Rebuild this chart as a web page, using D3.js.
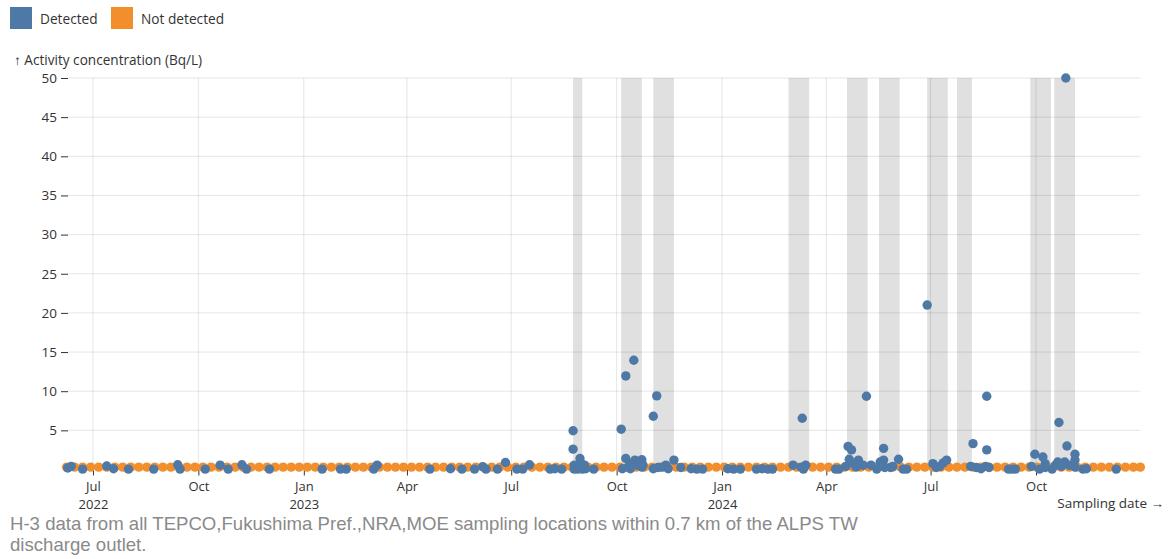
<!DOCTYPE html>
<html lang="en">
<head>
<meta charset="UTF-8">
<title>H-3 near ALPS TW outlet</title>
<script src="https://d3js.org/d3.v7.min.js"></script>
<style>
  body { margin: 0; padding: 0; background: #fff; }
  svg { display: block; }
</style>
</head>
<body>
<script>
const width = 1171, height = 559;
const font = "'Open Sans', sans-serif";

// shaded periods
const bandStart = ["2023-08-24", "2023-10-05", "2023-11-02", "2024-02-28", "2024-04-19",
  "2024-05-17", "2024-06-28", "2024-07-24", "2024-09-26", "2024-10-17"];
const bandEnd = ["2023-09-01", "2023-10-23", "2023-11-20", "2024-03-17", "2024-05-07",
  "2024-06-04", "2024-07-16", "2024-08-06", "2024-10-14", "2024-11-04"];

// detected results [date, Bq/L]
const detected = [
  ["2022-06-09",0.2],["2022-06-12",0.4],["2022-06-22",0.05],["2022-07-13",0.45],["2022-07-19",0.1],
  ["2022-08-01",0.05],["2022-08-23",0.05],["2022-09-13",0.6],["2022-09-15",0.05],["2022-10-07",0.05],
  ["2022-10-20",0.55],["2022-10-27",0.05],["2022-11-08",0.6],["2022-11-12",0.05],["2022-12-02",0.05],
  ["2023-01-17",0.05],["2023-02-02",0.05],["2023-02-07",0.05],["2023-03-03",0.05],["2023-03-06",0.55],
  ["2023-04-21",0.05],["2023-05-09",0.1],["2023-05-19",0.05],["2023-05-30",0.05],["2023-06-06",0.35],
  ["2023-06-09",0.05],["2023-06-19",0.05],["2023-06-26",0.9],["2023-07-06",0.05],["2023-07-11",0.05],
  ["2023-07-17",0.6],["2023-08-04",0.05],["2023-08-08",0.1],["2023-08-14",0.05],
  ["2023-08-24",4.95],["2023-08-24",2.6],["2023-08-30",1.4],["2023-08-25",0.55],["2023-08-25",0.05],
  ["2023-08-28",0.3],["2023-08-28",0.05],["2023-08-31",0.75],["2023-09-01",0.05],["2023-09-03",0.55],
  ["2023-09-04",0.1],["2023-09-11",0.05],
  ["2023-10-05",5.15],["2023-10-09",11.95],["2023-10-16",13.95],["2023-10-09",1.4],["2023-10-06",0.1],
  ["2023-10-11",0.3],["2023-10-13",0.1],["2023-10-14",0.75],["2023-10-17",1.2],["2023-10-19",0.55],
  ["2023-10-23",1.25],["2023-10-23",0.3],["2023-10-24",0.55],
  ["2023-11-02",6.8],["2023-11-05",9.4],["2023-11-02",0.1],["2023-11-06",0.25],["2023-11-10",0.3],
  ["2023-11-13",0.55],["2023-11-15",0.1],["2023-11-20",1.2],["2023-11-26",0.25],["2023-12-05",0.1],
  ["2023-12-10",0.05],["2023-12-15",0.05],
  ["2024-01-06",0.1],["2024-01-11",0.05],["2024-01-17",0.05],["2024-01-31",0.05],["2024-02-05",0.1],
  ["2024-02-10",0.05],["2024-02-14",0.05],
  ["2024-03-03",0.55],["2024-03-11",6.55],["2024-03-10",0.3],["2024-03-14",0.55],["2024-03-12",0.05],
  ["2024-04-09",0.05],["2024-04-12",0.05],
  ["2024-04-18",0.4],["2024-04-20",2.95],["2024-04-23",2.5],["2024-04-21",1.3],["2024-04-25",0.75],
  ["2024-04-29",1.2],["2024-04-27",0.3],["2024-05-06",9.35],["2024-05-03",0.55],
  ["2024-05-10",0.55],["2024-05-15",0.05],["2024-05-18",0.95],["2024-05-21",2.7],["2024-05-21",1.2],
  ["2024-05-22",0.25],["2024-05-27",0.25],["2024-05-29",0.4],["2024-06-03",1.3],["2024-06-07",0.05],
  ["2024-06-10",0.05],
  ["2024-06-28",21.0],["2024-07-03",0.75],["2024-07-06",0.25],["2024-07-09",0.4],["2024-07-12",0.85],
  ["2024-07-15",1.2],
  ["2024-08-05",0.4],["2024-08-07",3.3],["2024-08-10",0.25],["2024-08-14",0.1],["2024-08-19",2.5],
  ["2024-08-19",9.35],["2024-08-18",0.4],["2024-08-21",0.25],
  ["2024-09-07",0.05],["2024-09-10",0.05],["2024-09-13",0.05],
  ["2024-09-27",0.4],["2024-09-30",1.95],["2024-10-04",0.05],["2024-10-07",1.6],["2024-10-09",0.75],
  ["2024-10-09",0.25],
  ["2024-10-15",0.05],["2024-10-18",0.55],["2024-10-20",0.95],["2024-10-21",6.0],["2024-10-23",0.4],
  ["2024-10-26",0.95],["2024-10-27",50],["2024-10-28",3.0],["2024-10-30",0.55],["2024-11-04",1.95],
  ["2024-11-04",1.2],["2024-11-04",0.3],["2024-11-11",0.05],["2024-11-14",0.1],["2024-12-10",0.05]
];

// not detected results (plotted at the detection level)
const notDetectedLevel = 0.3;
const notDetected = [
  "2022-06-08","2022-06-15","2022-06-22","2022-06-29","2022-07-06","2022-07-13","2022-07-20","2022-07-27",
  "2022-08-03","2022-08-10","2022-08-17","2022-08-24","2022-08-31","2022-09-07","2022-09-14","2022-09-21",
  "2022-09-28","2022-10-05","2022-10-12","2022-10-19","2022-10-26","2022-11-02","2022-11-09","2022-11-16",
  "2022-11-23","2022-11-30","2022-12-07","2022-12-14","2022-12-21","2022-12-28",
  "2023-01-04","2023-01-11","2023-01-18","2023-01-25","2023-02-01","2023-02-08","2023-02-15","2023-02-22",
  "2023-03-01","2023-03-08","2023-03-15","2023-03-22","2023-03-29","2023-04-05","2023-04-12","2023-04-19",
  "2023-04-26","2023-05-03","2023-05-10","2023-05-17","2023-05-24","2023-05-31","2023-06-07","2023-06-14",
  "2023-06-21","2023-06-28","2023-07-05","2023-07-12","2023-07-19","2023-07-26","2023-08-02","2023-08-09",
  "2023-08-16","2023-08-23","2023-08-30","2023-09-06","2023-09-13","2023-09-20","2023-09-27","2023-10-04",
  "2023-10-11","2023-10-18","2023-10-25","2023-11-01","2023-11-08","2023-11-15","2023-11-22","2023-11-29",
  "2023-12-06","2023-12-13","2023-12-20","2023-12-27",
  "2024-01-03","2024-01-10","2024-01-17","2024-01-24","2024-01-31","2024-02-07","2024-02-14","2024-02-21",
  "2024-02-28","2024-03-06","2024-03-13","2024-03-20","2024-03-27","2024-04-03","2024-04-10","2024-04-17",
  "2024-04-24","2024-05-01","2024-05-08","2024-05-15","2024-05-22","2024-05-29","2024-06-05","2024-06-12",
  "2024-06-19","2024-06-26","2024-07-03","2024-07-10","2024-07-17","2024-07-24","2024-07-31","2024-08-07",
  "2024-08-14","2024-08-21","2024-08-28","2024-09-04","2024-09-11","2024-09-18","2024-09-25","2024-10-02",
  "2024-10-09","2024-10-16","2024-10-23","2024-10-30","2024-11-06","2024-11-13","2024-11-20","2024-11-27",
  "2024-12-04","2024-12-11","2024-12-18","2024-12-25","2024-12-31"
];

const yTicks = [5, 10, 15, 20, 25, 30, 35, 40, 45, 50];
const legendLabels = ["Detected", "Not detected"];
const colors = ["#4e79a7", "#f28e2c"];
const caption = ["H-3 data from all TEPCO,Fukushima Pref.,NRA,MOE sampling locations within 0.7 km of the ALPS TW",
  "discharge outlet."];

const parse = d3.utcParse("%Y-%m-%d");

const x = d3.scaleUtc()
  .domain([parse("2022-06-08"), parse("2024-12-31")])
  .range([66.6, 1140.3]);

const y = d3.scaleLinear()
  .domain([0, 50])
  .range([469.5, 78]);

const svg = d3.select("body")
  .append("svg")
  .attr("width", width)
  .attr("height", height)
  .style("font-family", font);

// shaded bands
svg.append("g")
  .selectAll("rect")
  .data(d3.zip(bandStart, bandEnd))
  .join("rect")
  .attr("x", d => x(parse(d[0])))
  .attr("width", d => x(parse(d[1])) - x(parse(d[0])))
  .attr("y", y(50))
  .attr("height", y(0) - y(50))
  .attr("fill", "#e0e0e0");

// grid
const xTicks = x.ticks(d3.utcMonth.every(3));
svg.append("g")
  .attr("stroke", "#000")
  .attr("stroke-opacity", 0.1)
  .selectAll("line")
  .data(yTicks)
  .join("line")
  .attr("x1", x.range()[0] + 1)
  .attr("x2", x.range()[1])
  .attr("y1", d => y(d))
  .attr("y2", d => y(d));

svg.append("g")
  .attr("stroke", "#000")
  .attr("stroke-opacity", 0.1)
  .selectAll("line")
  .data(xTicks)
  .join("line")
  .attr("x1", d => x(d))
  .attr("x2", d => x(d))
  .attr("y1", y(50))
  .attr("y2", y(0));

// y axis
const yAxis = svg.append("g")
  .attr("transform", "translate(68,0)")
  .call(d3.axisLeft(y).tickValues(yTicks).tickSize(7).tickPadding(4));
yAxis.select(".domain").remove();
yAxis.selectAll(".tick line").attr("stroke", "#333");
yAxis.selectAll(".tick text")
  .attr("font-family", font)
  .attr("font-size", 13.5)
  .attr("fill", "#333");

// x axis
const xAxis = svg.append("g")
  .attr("transform", `translate(0,${y(0)})`)
  .call(d3.axisBottom(x).tickValues(xTicks).tickSize(6).tickFormat(""));
xAxis.select(".domain").remove();
xAxis.selectAll(".tick text").remove();
xAxis.selectAll(".tick line").attr("stroke", "#333");
xAxis.selectAll(".tick").each(function (d, i) {
  const tick = d3.select(this);
  tick.append("text")
    .attr("y", 21.5)
    .attr("text-anchor", "middle")
    .attr("font-family", font)
    .attr("font-size", 13)
    .attr("fill", "#333")
    .text(d3.utcFormat("%b")(d));
  if (i === 0 || d.getUTCMonth() === 0) {
    tick.append("text")
      .attr("y", 39.5)
      .attr("text-anchor", "middle")
      .attr("font-family", font)
      .attr("font-size", 13)
      .attr("fill", "#333")
      .text(d3.utcFormat("%Y")(d));
  }
});

svg.append("text")
  .attr("x", 14)
  .attr("y", 65)
  .attr("font-size", 13.6)
  .attr("fill", "#333")
  .text("↑ Activity concentration (Bq/L)");

svg.append("text")
  .attr("x", 1164)
  .attr("y", 508)
  .attr("text-anchor", "end")
  .attr("font-size", 13.5)
  .attr("fill", "#333")
  .text("Sampling date →");

// dots
svg.append("g")
  .attr("fill", colors[1])
  .selectAll("circle")
  .data(notDetected)
  .join("circle")
  .attr("cx", d => x(parse(d)))
  .attr("cy", y(notDetectedLevel))
  .attr("r", 4.7);

svg.append("g")
  .attr("fill", colors[0])
  .selectAll("circle")
  .data(detected)
  .join("circle")
  .attr("cx", d => x(parse(d[0])))
  .attr("cy", d => y(d[1]))
  .attr("r", 4.7);

// legend
const legend = svg.append("g")
  .selectAll("g")
  .data(legendLabels)
  .join("g")
  .attr("transform", (d, i) => `translate(${[10, 111][i]},7)`);
legend.append("rect")
  .attr("width", 22)
  .attr("height", 22)
  .attr("fill", (d, i) => colors[i]);
legend.append("text")
  .attr("x", 30)
  .attr("y", 17)
  .attr("font-size", 13.7)
  .attr("fill", "#333")
  .text(d => d);

// caption
svg.append("text")
  .attr("font-family", "'Liberation Sans', Arial, sans-serif")
  .attr("font-size", 18.6)
  .attr("fill", "#8a8a8a")
  .selectAll("tspan")
  .data(caption)
  .join("tspan")
  .attr("x", 10)
  .attr("y", (d, i) => 530 + i * 21)
  .text(d => d);
</script>
</body>
</html>
